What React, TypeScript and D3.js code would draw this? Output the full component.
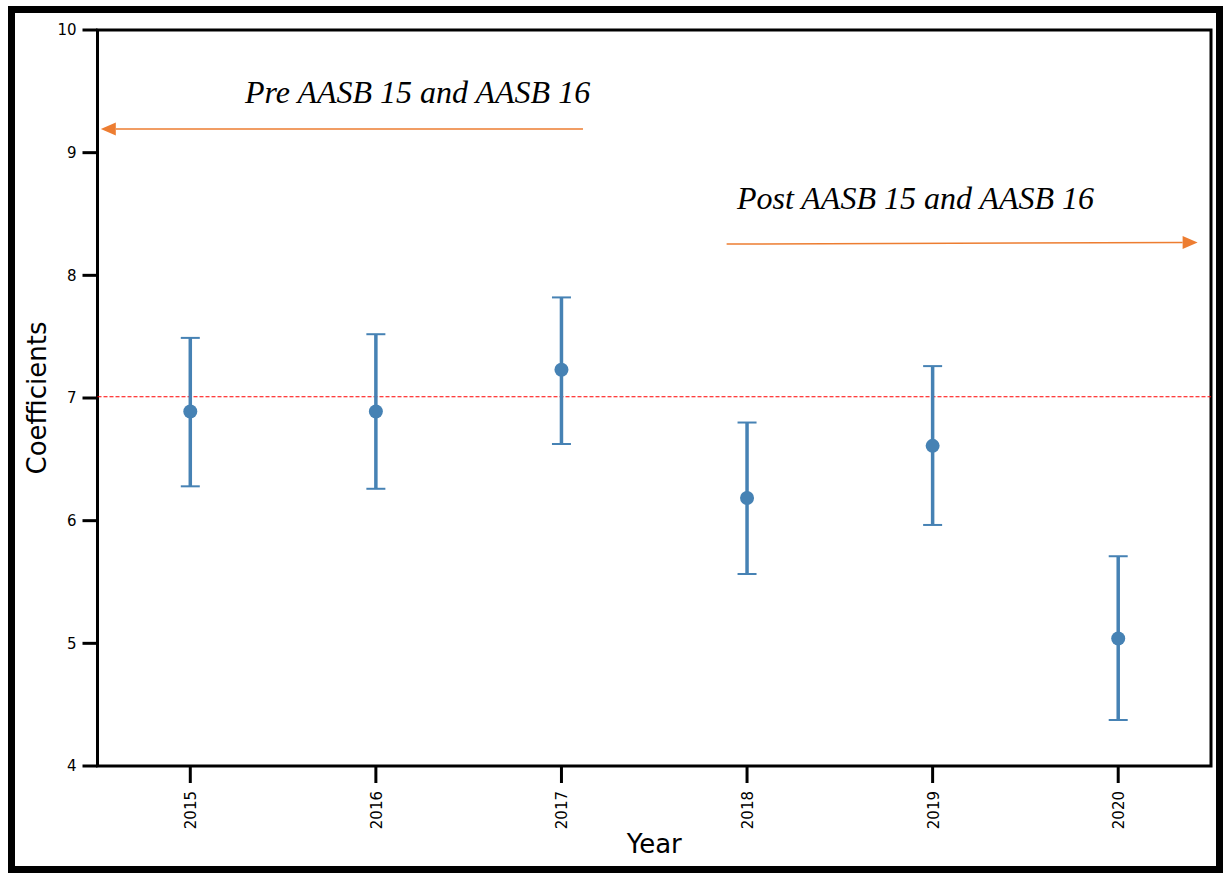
import React from "react";
import * as d3 from "d3";

const years = ["2015", "2016", "2017", "2018", "2019", "2020"];
const coefs = [6.89, 6.89, 7.23, 6.185, 6.61, 5.04];
const upper = [7.49, 7.52, 7.82, 6.80, 7.26, 5.71];
const lower = [6.28, 6.26, 6.625, 5.565, 5.965, 4.375];
const yTicks = [4, 5, 6, 7, 8, 9, 10];
const refLine = 7.01;
const preLabel = "Pre AASB 15 and AASB 16";
const postLabel = "Post AASB 15 and AASB 16";
// arrow positions: [x (fraction of plot width), y value]
const preArrow = { from: [0.436, 9.192], to: [0.003, 9.192] };
const postArrow = { from: [0.565, 8.255], to: [0.988, 8.268] };

export default function App() {
  const W = 1223, H = 873;
  const L = 97.5, R = 1211, T = 30, B = 766;
  const x = d3.scalePoint<string>().domain(years).range([L, R]).padding(0.5);
  const y = d3.scaleLinear().domain([4, 10]).range([B, T]);
  const fx = d3.scaleLinear().domain([0, 1]).range([L, R]);
  const blue = "#4682B4";
  const orange = "#ED7D31";
  const font = "DejaVu Sans, sans-serif";
  const serif = "Liberation Serif, Times New Roman, serif";

  const arrow = (a: { from: number[]; to: number[] }, key: string) => {
    const x1 = fx(a.from[0]), y1 = y(a.from[1]);
    const x2 = fx(a.to[0]), y2 = y(a.to[1]);
    const ang = Math.atan2(y2 - y1, x2 - x1);
    const hl = 15, hw = 6.5;
    const bx = x2 - hl * Math.cos(ang), by = y2 - hl * Math.sin(ang);
    const px = -Math.sin(ang) * hw, py = Math.cos(ang) * hw;
    return (
      <g key={key}>
        <line x1={x1} y1={y1} x2={bx} y2={by} stroke={orange} strokeWidth={1.5} />
        <path d={`M${x2},${y2}L${bx + px},${by + py}L${bx - px},${by - py}Z`} fill={orange} />
      </g>
    );
  };

  return (
    <svg width={W} height={H} style={{ position: "absolute", left: 0, top: 0 }}>
      <rect x={0} y={0} width={W} height={H} fill="white" />
      <rect x={11.5} y={9.5} width={1208} height={860} fill="none" stroke="black" strokeWidth={7} />
      <rect x={L} y={T} width={R - L} height={B - T} fill="none" stroke="black" strokeWidth={3} />
      {yTicks.map((t) => (
        <g key={"y" + t}>
          <line x1={L - 15} x2={L} y1={y(t)} y2={y(t)} stroke="black" strokeWidth={3} />
          <text x={L - 21} y={y(t)} dy="0.36em" textAnchor="end" fontFamily={font} fontSize={15}>
            {t}
          </text>
        </g>
      ))}
      {years.map((yr) => (
        <g key={"x" + yr}>
          <line x1={x(yr)} x2={x(yr)} y1={B} y2={B + 17} stroke="black" strokeWidth={3} />
          <text
            transform={`translate(${x(yr)! + 6},${B + 25}) rotate(-90)`}
            textAnchor="end"
            fontFamily={font}
            fontSize={15}
          >
            {yr}
          </text>
        </g>
      ))}
      <text x={(L + R) / 2} y={853} textAnchor="middle" fontFamily={font} fontSize={26}>
        Year
      </text>
      <text
        transform={`translate(46,${(T + B) / 2}) rotate(-90)`}
        textAnchor="middle"
        fontFamily={font}
        fontSize={26}
      >
        Coefficients
      </text>
      <line x1={L} x2={R} y1={y(refLine)} y2={y(refLine)} stroke="red" strokeWidth={1.2} strokeDasharray="4,2" />
      {years.map((yr, i) => {
        const cx = x(yr)!;
        return (
          <g key={"e" + yr}>
            <line x1={cx} x2={cx} y1={y(upper[i])} y2={y(lower[i])} stroke={blue} strokeWidth={3.5} />
            <line x1={cx - 9.5} x2={cx + 9.5} y1={y(upper[i])} y2={y(upper[i])} stroke={blue} strokeWidth={2} />
            <line x1={cx - 9.5} x2={cx + 9.5} y1={y(lower[i])} y2={y(lower[i])} stroke={blue} strokeWidth={2} />
            <circle cx={cx} cy={y(coefs[i])} r={7} fill={blue} />
          </g>
        );
      })}
      <text x={245} y={103} fontFamily={serif} fontStyle="italic" fontSize={32}>
        {preLabel}
      </text>
      <text x={737} y={209} fontFamily={serif} fontStyle="italic" fontSize={32}>
        {postLabel}
      </text>
      {arrow(preArrow, "pre")}
      {arrow(postArrow, "post")}
    </svg>
  );
}
